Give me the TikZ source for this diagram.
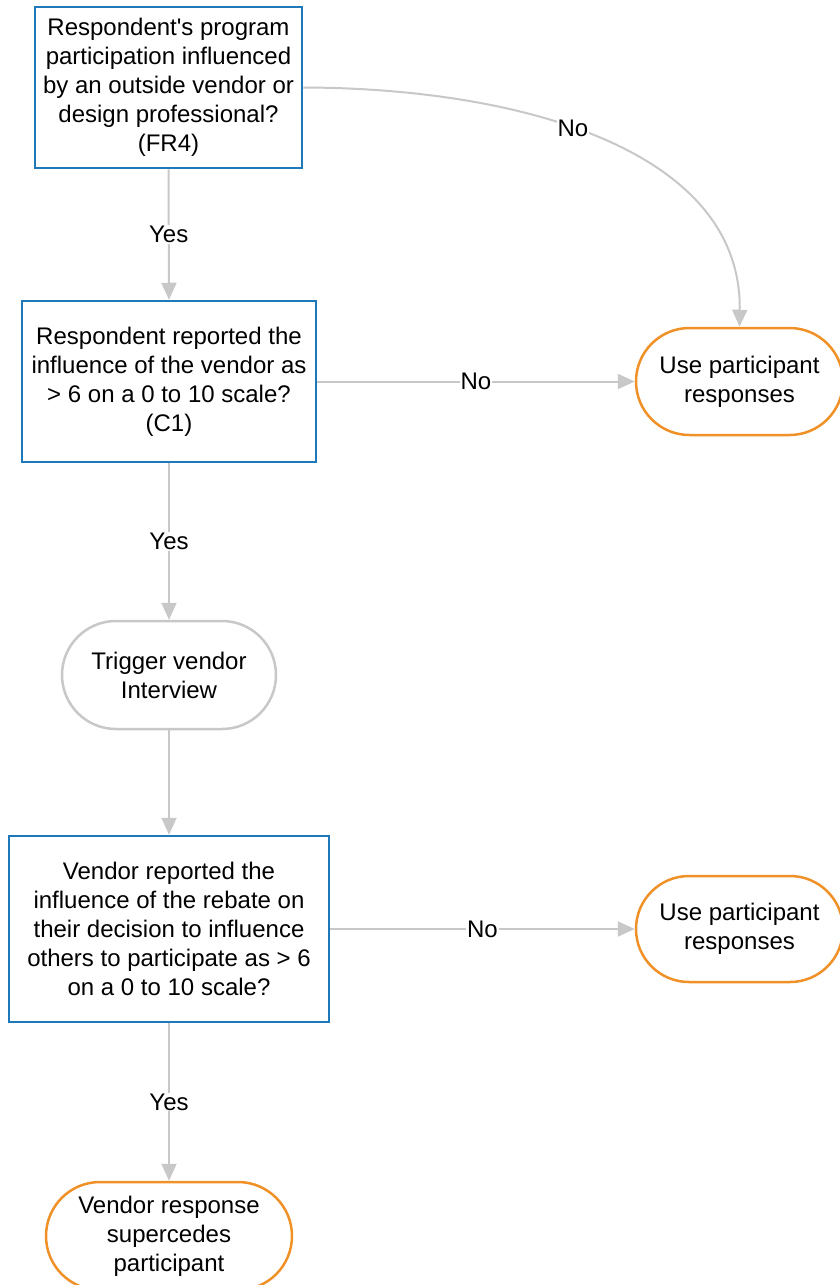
\documentclass[tikz,border=0pt]{standalone}
\usepackage{fontspec}
\setmainfont{Liberation Sans}
\usetikzlibrary{arrows.meta,shapes.misc}
\definecolor{boxblue}{RGB}{30,120,185}
\definecolor{pillorange}{RGB}{240,145,40}
\definecolor{linegrey}{RGB}{200,200,200}
\tikzset{
  txt/.style={font=\fontsize{24}{29}\selectfont, align=center, text=black, inner sep=0pt},
  qbox/.style={txt, draw=boxblue, line width=2.5pt, fill=white},
  pill/.style={txt, rounded rectangle, draw=pillorange, line width=2.5pt, fill=white},
  greypill/.style={txt, rounded rectangle, draw=linegrey, line width=2.5pt, fill=white},
  conn/.style={draw=linegrey, line width=2pt, -{Triangle[length=17pt,width=15pt,fill=linegrey]}},
  lbl/.style={txt, fill=white, inner sep=1pt}
}
\begin{document}
\begin{tikzpicture}[x=1pt,y=-1pt]
\useasboundingbox (0,0) rectangle (840,1285);
\fill[white] (0,0) rectangle (840,1285);

\node[qbox, minimum width=267pt, minimum height=161pt] (q1) at (168.5,87.5)
  {Respondent\textquotesingle s program\\participation influenced\\by an outside vendor or\\design professional?\\(FR4)};
\node[qbox, minimum width=294pt, minimum height=161pt] (q2) at (169,381.5)
  {Respondent reported the\\influence of the vendor as\\> 6 on a 0 to 10 scale?\\(C1)};
\node[greypill, minimum width=214pt, minimum height=108pt] (tv) at (169,675)
  {Trigger vendor\\Interview};
\node[qbox, minimum width=320pt, minimum height=186pt] (q3) at (169,929)
  {Vendor reported the\\influence of the rebate on\\their decision to influence\\others to participate as > 6\\on a 0 to 10 scale?};
\node[pill, minimum width=207pt, minimum height=107pt] (u1) at (739.5,381.5)
  {Use participant\\responses};
\node[pill, minimum width=207pt, minimum height=106pt] (u2) at (739.5,929)
  {Use participant\\responses};
\node[pill, minimum width=246pt, minimum height=108pt] (vr) at (169,1236)
  {Vendor response\\supercedes\\participant};

\draw[conn] (q1.south) -- node[lbl] {Yes} (q2.north);
\draw[conn] (q1.east) .. controls (520,88) and (742,150) .. node[lbl, pos=0.44] {No} (u1.north);
\draw[conn] (q2.east) -- node[lbl] {No} (u1.west);
\draw[conn] (q2.south) -- node[lbl] {Yes} (tv.north);
\draw[conn] (tv.south) -- (q3.north);
\draw[conn] (q3.east) -- node[lbl] {No} (u2.west);
\draw[conn] (q3.south) -- node[lbl] {Yes} (vr.north);
\end{tikzpicture}
\end{document}
